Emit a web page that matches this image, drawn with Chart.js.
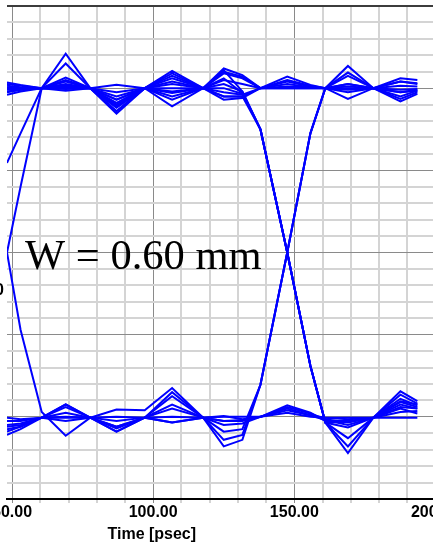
<!DOCTYPE html>
<html><head><meta charset="utf-8">
<script src="https://cdn.jsdelivr.net/npm/chart.js@4/dist/chart.umd.min.js"></script>
<style>
html,body{margin:0;padding:0;background:#fff;overflow:hidden;width:433px;height:551px;}
#wrap{position:absolute;left:-40px;top:0;width:520px;height:551px;}
</style></head><body>
<div id="wrap"><canvas id="c" width="520" height="551"></canvas></div>
<script>
// sample times (psec)
const timePs = [48.2, 53, 60.5, 69, 77.7, 87, 97, 106.7, 117.7, 125, 131.6, 138, 147.5, 155.7, 161, 169, 178, 187.6, 193.6];

// upper rail traces (mV)
const riseLeftA = [0, 80, 200, 242, 200, 172, 200, 208, 200, 210, 205, 200, 205, 201, 200, 198, 200, 195, 197];
const riseLeftB = [109, 145, 200, 230, 200, 178, 200, 215, 200, 218, 212, 200, 208, 202, 200, 205, 200, 208, 205];
const high1 = [207, 204, 200, 213, 200, 186, 200, 221, 200, 224, 216, 200, 214, 204, 200, 205, 200, 212, 210];
const high2 = [192, 196, 200, 205, 200, 169, 200, 178, 200, 186, 188, 200, 200, 200, 200, 187, 200, 195, 198];
const high3 = [205, 203, 200, 210, 200, 180, 200, 212, 200, 220, 214, 200, 210, 203, 200, 202, 200, 208, 206];
const high4 = [195, 198, 200, 200, 200, 176, 200, 190, 200, 195, 192, 200, 202, 201, 200, 195, 200, 198, 199];
const high5 = [200, 200, 200, 197, 200, 204, 200, 196, 200, 190, 190, 200, 200, 200, 200, 200, 200, 203, 202];

// falling edges at ~147.5 psec
const fall1 = [203, 201, 200, 208, 200, 182, 200, 218, 200, 222, 196, 150, 0, -138, -207, -244, -201, -169, -181];
const fall2 = [198, 199, 200, 202, 200, 172, 200, 186, 200, 190, 190, 150, 0, -138, -207, -236, -201, -173, -184];
const fall3 = [201, 200, 200, 204, 200, 190, 200, 200, 200, 205, 196, 150, 0, -138, -207, -226, -201, -178, -186];
const fall4 = [196, 198, 200, 199, 200, 195, 200, 194, 200, 200, 193, 150, 0, -138, -207, -213, -201, -185, -190];
const fall5 = [199, 200, 200, 201, 200, 186, 200, 205, 200, 212, 194, 150, 0, -138, -207, -206, -201, -182, -188];

// rising edges at ~147.5 psec
const rise1 = [-215, -212, -201, -188, -201, -218, -201, -207, -201, -236, -228, -161, 0, 145, 200, 227, 200, 184, 193];
const rise2 = [-210, -208, -201, -195, -201, -212, -201, -190, -201, -228, -222, -161, 0, 145, 200, 219, 200, 187, 195];
const rise3 = [-205, -205, -201, -185, -201, -205, -201, -175, -201, -218, -215, -161, 0, 145, 200, 215, 200, 190, 197];

// lower rail traces
const low1 = [-222, -215, -201, -201, -201, -218, -201, -207, -201, -199, -203, -200, -186, -195, -205, -205, -201, -194, -193];
const low2 = [-201, -203, -201, -185, -201, -212, -201, -185, -201, -210, -208, -200, -190, -198, -201, -203, -201, -201, -201];
const low3 = [-212, -210, -201, -200, -201, -200, -201, -170, -201, -205, -205, -200, -195, -200, -201, -201, -201, -190, -196];
const low4 = [-218, -212, -201, -205, -201, -191, -192, -165, -201, -200, -200, -200, -188, -196, -203, -207, -201, -181, -185];
const fallLeft = [0, -94, -194, -223, -201, -214, -201, -200, -201, -205, -204, -200, -192, -198, -204, -210, -201, -188, -190];

const xLabelValues = [50, 100, 150, 200];
const xTitle = 'Time [psec]';
const noteText = 'W = 0.60 mm';
const yEdgeLabel = '0';

const traces = [riseLeftA, riseLeftB, high1, high2, high3, high4, high5,
  fall1, fall2, fall3, fall4, fall5, rise1, rise2, rise3,
  low1, low2, low3, low4, fallLeft];

const textPlugin = {
  id: 'texts',
  afterDraw(chart) {
    const ctx = chart.ctx, xs = chart.scales.x, ys = chart.scales.y;
    ctx.save();
    ctx.fillStyle = '#000';
    ctx.font = '42.5px "Liberation Serif", "Times New Roman", serif';
    ctx.textAlign = 'left';
    ctx.textBaseline = 'alphabetic';
    ctx.fillText(noteText, xs.getPixelForValue(54.6), ys.getPixelForValue(-20));
    ctx.font = 'bold 16px "Liberation Sans", Arial, sans-serif';
    ctx.textAlign = 'center';
    ctx.textBaseline = 'middle';
    ctx.fillText(xTitle, xs.getPixelForValue(99.5), 535);
    ctx.textAlign = 'right';
    ctx.fillText(yEdgeLabel, chart.chartArea.left - 3, ys.getPixelForValue(-46));
    ctx.restore();
  }
};

new Chart(document.getElementById('c'), {
  type: 'line',
  data: {
    datasets: traces.map(s => ({
      data: timePs.map((t, i) => ({x: t, y: s[i]})),
      borderColor: '#0000ff', borderWidth: 2, pointRadius: 0, tension: 0, fill: false
    }))
  },
  options: {
    responsive: false, animation: false, devicePixelRatio: 1,
    layout: {padding: {left: 47, top: 6, right: 22, bottom: 0}},
    plugins: {legend: {display: false}, tooltip: {enabled: false}},
    scales: {
      x: {
        type: 'linear', min: 48.2, max: 208,
        afterFit: s => { s.height = 52; },
        afterBuildTicks: s => { const t = []; for (let v = 50; v <= 200; v += 10) t.push({value: v}); s.ticks = t; },
        grid: {
          color: c => (c.tick && c.tick.value % 50 === 0) ? '#8a8a8a' : '#d4d4d4',
          lineWidth: c => (c.tick && c.tick.value % 50 === 0) ? 1 : 2,
          tickLength: 4, drawTicks: true
        },
        border: {display: true, color: '#000', width: 2},
        ticks: {
          autoSkip: false, maxRotation: 0, minRotation: 0, padding: 0, color: '#000',
          font: {family: '"Liberation Sans", Arial, sans-serif', size: 16, weight: 'bold'},
          callback: v => xLabelValues.includes(v) ? v.toFixed(2) : ''
        }
      },
      y: {
        type: 'linear', min: -300, max: 300,
        afterFit: s => { s.width = 0; },
        ticks: {display: false, stepSize: 20},
        grid: {
          drawTicks: false,
          color: c => { const v = c.tick.value; if (v === 300) return '#3c3c3c'; if (v === -300) return '#000'; return v % 100 === 0 ? '#8a8a8a' : '#d4d4d4'; },
          lineWidth: c => { const v = c.tick.value; if (v === 300 || v === -300) return 2; return v % 100 === 0 ? 1 : 2; }
        },
        border: {display: false}
      }
    }
  },
  plugins: [textPlugin]
});
</script>
</body></html>
